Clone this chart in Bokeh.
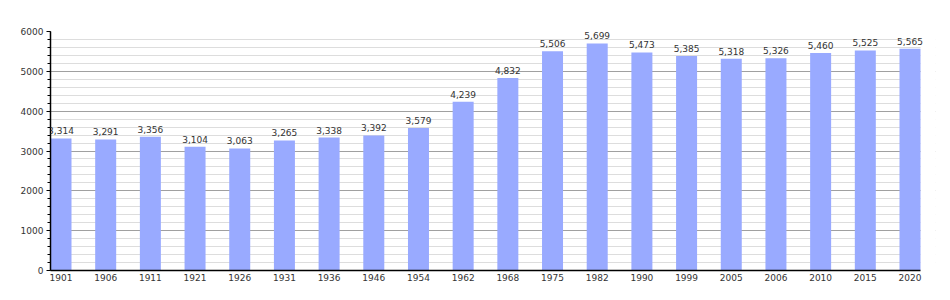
from bokeh.plotting import figure
from bokeh.models import ColumnDataSource, SingleIntervalTicker, FixedTicker, Range1d, Label, BoxAnnotation
from bokeh.embed import file_html
from bokeh.resources import INLINE

years = ["1901", "1906", "1911", "1921", "1926", "1931", "1936", "1946", "1954", "1962",
         "1968", "1975", "1982", "1990", "1999", "2005", "2006", "2010", "2015", "2020"]
population = [3314, 3291, 3356, 3104, 3063, 3265, 3338, 3392, 3579, 4239,
              4832, 5506, 5699, 5473, 5385, 5318, 5326, 5460, 5525, 5565]

idx = list(range(len(years)))
src = ColumnDataSource(dict(x=idx, top=population))

BW = 0.47
n = len(years)
span = (n - 1) + BW           # data units over the 870 px plotting area
extra = 15 * span / 870.0     # extra room on the right so the last label is not clipped
x_end_plot = n - 1 + BW / 2

p = figure(width=950, height=300, output_backend="svg", toolbar_location=None,
           x_range=Range1d(-BW / 2, x_end_plot + extra), y_range=Range1d(0, 6000),
           min_border_left=50, min_border_right=15, min_border_top=31, min_border_bottom=30)
p.outline_line_color = None
p.background_fill_color = "white"
p.border_fill_color = "white"

ticker = SingleIntervalTicker(interval=1000, num_minor_ticks=5)
p.yaxis.ticker = ticker
p.ygrid.ticker = ticker
p.ygrid.grid_line_color = "#a0a0a0"
p.ygrid.minor_grid_line_color = "#dddddd"
p.ygrid.level = "underlay"
p.xgrid.grid_line_color = None

# hide gridlines beyond the plotting area
p.add_layout(BoxAnnotation(left=x_end_plot, right=x_end_plot + 3 * extra,
                           bottom=-100, top=6100,
                           fill_color="white", fill_alpha=1.0,
                           line_color=None, level="underlay"))

p.vbar(x="x", top="top", width=BW, bottom=0, source=src, fill_color="#99aaff", line_color=None)

for i, v in zip(idx, population):
    p.add_layout(Label(x=i, y=v, text=f"{v:,}", text_align="center", text_baseline="bottom",
                       y_offset=4, text_font="DejaVu Sans", text_font_size="9px",
                       text_color="#333333"))

p.yaxis.axis_line_color = "black"
p.yaxis.axis_line_width = 1.5
p.yaxis.major_tick_out = 4
p.yaxis.major_tick_in = 0
p.yaxis.minor_tick_out = 3
p.yaxis.minor_tick_in = 0
p.yaxis.major_label_standoff = 3
p.yaxis.major_label_text_font = "DejaVu Sans"
p.yaxis.major_label_text_font_size = "9px"
p.yaxis.major_label_text_color = "#333333"

p.xaxis.ticker = FixedTicker(ticks=idx)
p.xaxis.bounds = (-BW / 2, x_end_plot)
p.xaxis.major_label_overrides = {i: y for i, y in zip(idx, years)}
p.xaxis.axis_line_color = "black"
p.xaxis.axis_line_width = 1.5
p.xaxis.major_tick_out = 0
p.xaxis.major_tick_in = 0
p.xaxis.minor_tick_out = 0
p.xaxis.minor_tick_in = 0
p.xaxis.major_label_standoff = 3
p.xaxis.major_label_text_font = "DejaVu Sans"
p.xaxis.major_label_text_font_size = "9px"
p.xaxis.major_label_text_color = "#333333"

open("out.html", "w").write(file_html(p, INLINE))
